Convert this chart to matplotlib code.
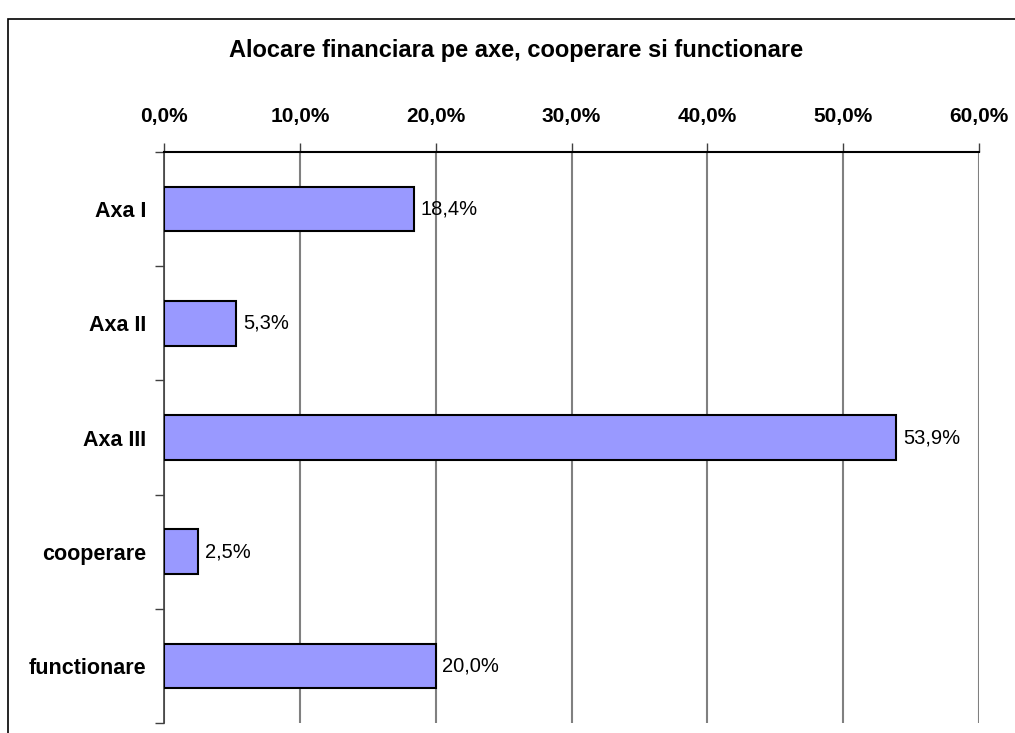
import matplotlib.pyplot as plt
from matplotlib.patches import Rectangle
from matplotlib.ticker import FuncFormatter, FixedLocator

plt.rcParams['font.family'] = ['Liberation Sans', 'DejaVu Sans']

categorii = ['Axa I', 'Axa II', 'Axa III', 'cooperare', 'functionare']
procente = [18.4, 5.3, 53.9, 2.5, 20.0]
titlu = 'Alocare financiara pe axe, cooperare si functionare'

W, H = 1015, 733
fig = plt.figure(figsize=(W / 100, H / 100), dpi=100)

# chenarul graficului (taiat in dreapta si jos)
fig.patches.append(Rectangle((8 / W, -0.05), 1.1, 1 - 19 / H + 0.05,
                             transform=fig.transFigure, fill=False,
                             edgecolor='black', linewidth=1.2))

ax = fig.add_axes([164 / W, 1 - 723 / H, (979 - 164) / W, (723 - 152) / H])

y = list(range(len(categorii)))
ax.barh(y, procente, height=0.39, color='#9999FF', edgecolor='black',
        linewidth=1.5, zorder=3)

for yi, v in zip(y, procente):
    ax.text(v + 0.5, yi, f'{v:.1f}%'.replace('.', ','), va='center',
            ha='left', fontsize=14.5, zorder=4)

ax.set_xlim(0, 60)
ax.set_ylim(len(categorii) - 0.5, -0.5)

ax.xaxis.tick_top()
ax.set_xticks(range(0, 61, 10))
ax.xaxis.set_major_formatter(FuncFormatter(lambda x, p: f'{x:.1f}%'.replace('.', ',')))
ax.tick_params(axis='x', direction='out', length=6.5, width=1, pad=12,
               labelsize=15, color='#404040')
for lab in ax.get_xticklabels():
    lab.set_fontweight('bold')

ax.set_yticks(y)
ax.set_yticklabels(categorii, fontsize=15.5, fontweight='bold')
ax.yaxis.set_minor_locator(FixedLocator([i + 0.5 for i in range(-1, len(categorii))]))
ax.tick_params(axis='y', which='major', length=0, pad=13)
ax.tick_params(axis='y', which='minor', direction='out', length=6.5,
               width=1, color='#404040')

ax.grid(axis='x', color='#808080', linewidth=1.5, zorder=0)
ax.set_axisbelow(True)

for s in ['right', 'bottom']:
    ax.spines[s].set_visible(False)
ax.spines['top'].set_linewidth(1.5)
ax.spines['left'].set_color('#404040')
ax.spines['left'].set_linewidth(1.2)

fig.text(516 / W, 1 - 51 / H, titlu, ha='center', va='center',
         fontsize=17, fontweight='bold')

fig.savefig('out.png', dpi=100)
